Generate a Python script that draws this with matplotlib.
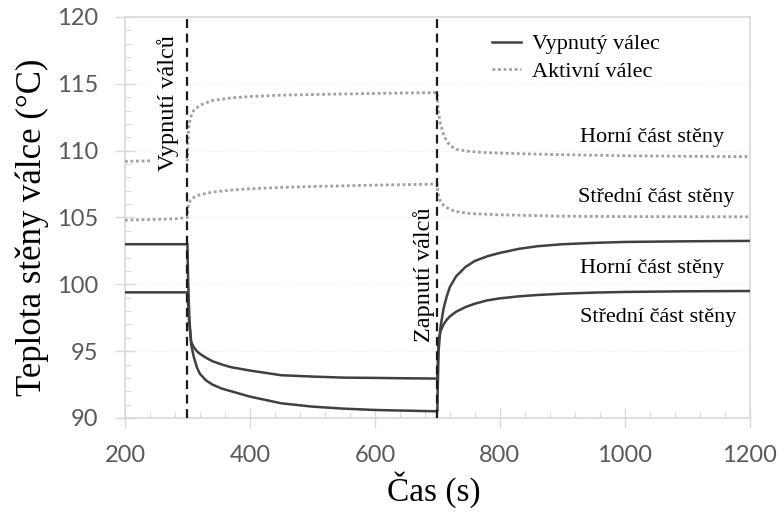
import matplotlib.pyplot as plt
from matplotlib.ticker import MultipleLocator

# time axis (s) and wall temperatures (degC)
# deactivated cylinder, upper wall part
t_off_top = [200, 300, 301, 303, 306, 310, 315, 320, 330, 340, 355, 370, 400, 450, 500, 550, 600, 650, 700,
             700.5, 702, 705, 710, 715, 720, 730, 745, 760, 780, 800, 830, 860, 900, 950, 1000, 1100, 1200]
T_off_top = [103.0, 103.0, 100.5, 97.5, 95.5, 94.6, 93.8, 93.3, 92.8, 92.5, 92.2, 92.0, 91.6, 91.1, 90.85, 90.7,
             90.6, 90.55, 90.5,
             92.0, 95.0, 96.8, 98.2, 99.1, 99.8, 100.6, 101.3, 101.75, 102.1, 102.35, 102.65, 102.85, 103.0, 103.1,
             103.17, 103.22, 103.25]

# deactivated cylinder, middle wall part
t_off_mid = [200, 300, 301, 303, 306, 310, 315, 320, 330, 340, 355, 370, 400, 450, 500, 550, 600, 650, 700,
             700.5, 702, 705, 710, 715, 720, 730, 745, 760, 780, 800, 830, 860, 900, 950, 1000, 1100, 1200]
T_off_mid = [99.4, 99.4, 98.5, 97.0, 95.7, 95.3, 95.0, 94.8, 94.5, 94.25, 94.0, 93.8, 93.55, 93.2, 93.1, 93.02,
             93.0, 92.97, 92.95,
             94.0, 95.8, 96.5, 97.0, 97.35, 97.6, 97.95, 98.3, 98.55, 98.8, 98.95, 99.1, 99.2, 99.3, 99.38,
             99.43, 99.48, 99.5]

# active cylinder, upper wall part
t_on_top = [200, 300, 300.5, 302, 305, 310, 320, 340, 370, 400, 450, 500, 600, 700,
            700.5, 702, 705, 710, 715, 720, 730, 750, 780, 850, 900, 1000, 1100, 1200]
T_on_top = [109.2, 109.3, 110.5, 111.8, 112.5, 113.0, 113.4, 113.75, 113.95, 114.05, 114.15, 114.2, 114.28, 114.35,
            113.5, 112.8, 112.0, 111.2, 110.7, 110.4, 110.1, 109.95, 109.85, 109.75, 109.7, 109.62, 109.58, 109.55]

# active cylinder, middle wall part
t_on_mid = [200, 280, 300, 300.5, 302, 305, 310, 320, 340, 370, 400, 450, 500, 600, 700,
            700.5, 702, 705, 710, 720, 730, 750, 800, 900, 1000, 1200]
T_on_mid = [104.8, 104.9, 105.0, 105.6, 106.0, 106.3, 106.5, 106.7, 106.9, 107.05, 107.15, 107.25, 107.32, 107.42,
            107.5, 107.0, 106.6, 106.2, 105.9, 105.6, 105.45, 105.3, 105.2, 105.1, 105.07, 105.05]

switch_times = [300, 700]
x_ticks = [200, 400, 600, 800, 1000, 1200]
y_ticks = [90, 95, 100, 105, 110, 115, 120]

serif = 'Liberation Serif'
dark = '#404040'
light = '#a0a0a0'
axis_grey = '#d9d9d9'

fig = plt.figure(figsize=(7.81, 5.12), dpi=100)
ax = fig.add_axes([0.160, 0.1836, 0.800, 0.7832])

ax.plot(t_off_top, T_off_top, color=dark, lw=1.8, label='Vypnutý válec', zorder=3)
ax.plot(t_off_mid, T_off_mid, color=dark, lw=1.8, zorder=3)
ax.plot(t_on_top, T_on_top, color=light, lw=2.0, ls=(0, (1, 1)), label='Aktivní válec', zorder=3)
ax.plot(t_on_mid, T_on_mid, color=light, lw=2.0, ls=(0, (1, 1)), zorder=3)

for ts in switch_times:
    ax.axvline(ts, color='#1a1a1a', lw=1.6, ls=(0, (4, 2.5)), zorder=6)

ax.set_xlim(200, 1200)
ax.set_ylim(90, 120)
ax.set_xticks(x_ticks)
ax.set_yticks(y_ticks)
ax.xaxis.set_minor_locator(MultipleLocator(40))
ax.yaxis.set_minor_locator(MultipleLocator(1))
ax.grid(True, which='major', axis='y', color='#ececec', lw=0.8, ls=':')

for sp in ax.spines.values():
    sp.set_color(axis_grey)
    sp.set_linewidth(1.2)

ax.tick_params(which='major', direction='inout', length=15, width=1.0, color=axis_grey,
               labelcolor='#595959', labelsize=17, pad=12)
ax.tick_params(which='minor', direction='in', length=4, width=0.8, color=axis_grey)
for lbl in ax.get_xticklabels() + ax.get_yticklabels():
    lbl.set_fontfamily('Lato')

fig.text(434 / 781, 1 - 490 / 512, 'Čas (s)', ha='center', va='center', fontfamily=serif, fontsize=24)
fig.text(32 / 781, 1 - 227 / 512, 'Teplota stěny válce (°C)', rotation=90, ha='center', va='center',
         fontfamily=serif, fontsize=25)

# switching annotations
ax.text(269, 113.6, 'Vypnutí válců', rotation=90, ha='center', va='center', fontfamily=serif, fontsize=17.5,
        zorder=5, bbox=dict(boxstyle='square,pad=0.3', fc='white', ec='none'))
ax.text(679, 100.7, 'Zapnutí válců', rotation=90, ha='center', va='center', fontfamily=serif, fontsize=17.5,
        zorder=5)

# wall part labels
ax.text(928, 111.0, 'Horní část stěny', ha='left', va='center', fontfamily=serif, fontsize=16)
ax.text(925, 106.5, 'Střední část stěny', ha='left', va='center', fontfamily=serif, fontsize=16)
ax.text(928, 101.2, 'Horní část stěny', ha='left', va='center', fontfamily=serif, fontsize=16)
ax.text(928, 97.5, 'Střední část stěny', ha='left', va='center', fontfamily=serif, fontsize=16)

ax.legend(loc='upper left', bbox_to_anchor=(0.562, 0.997), frameon=False, prop={'family': serif, 'size': 16},
          handlelength=1.3, handletextpad=0.5, labelspacing=0.3, borderpad=0.2)

fig.savefig('out.png', dpi=100)
